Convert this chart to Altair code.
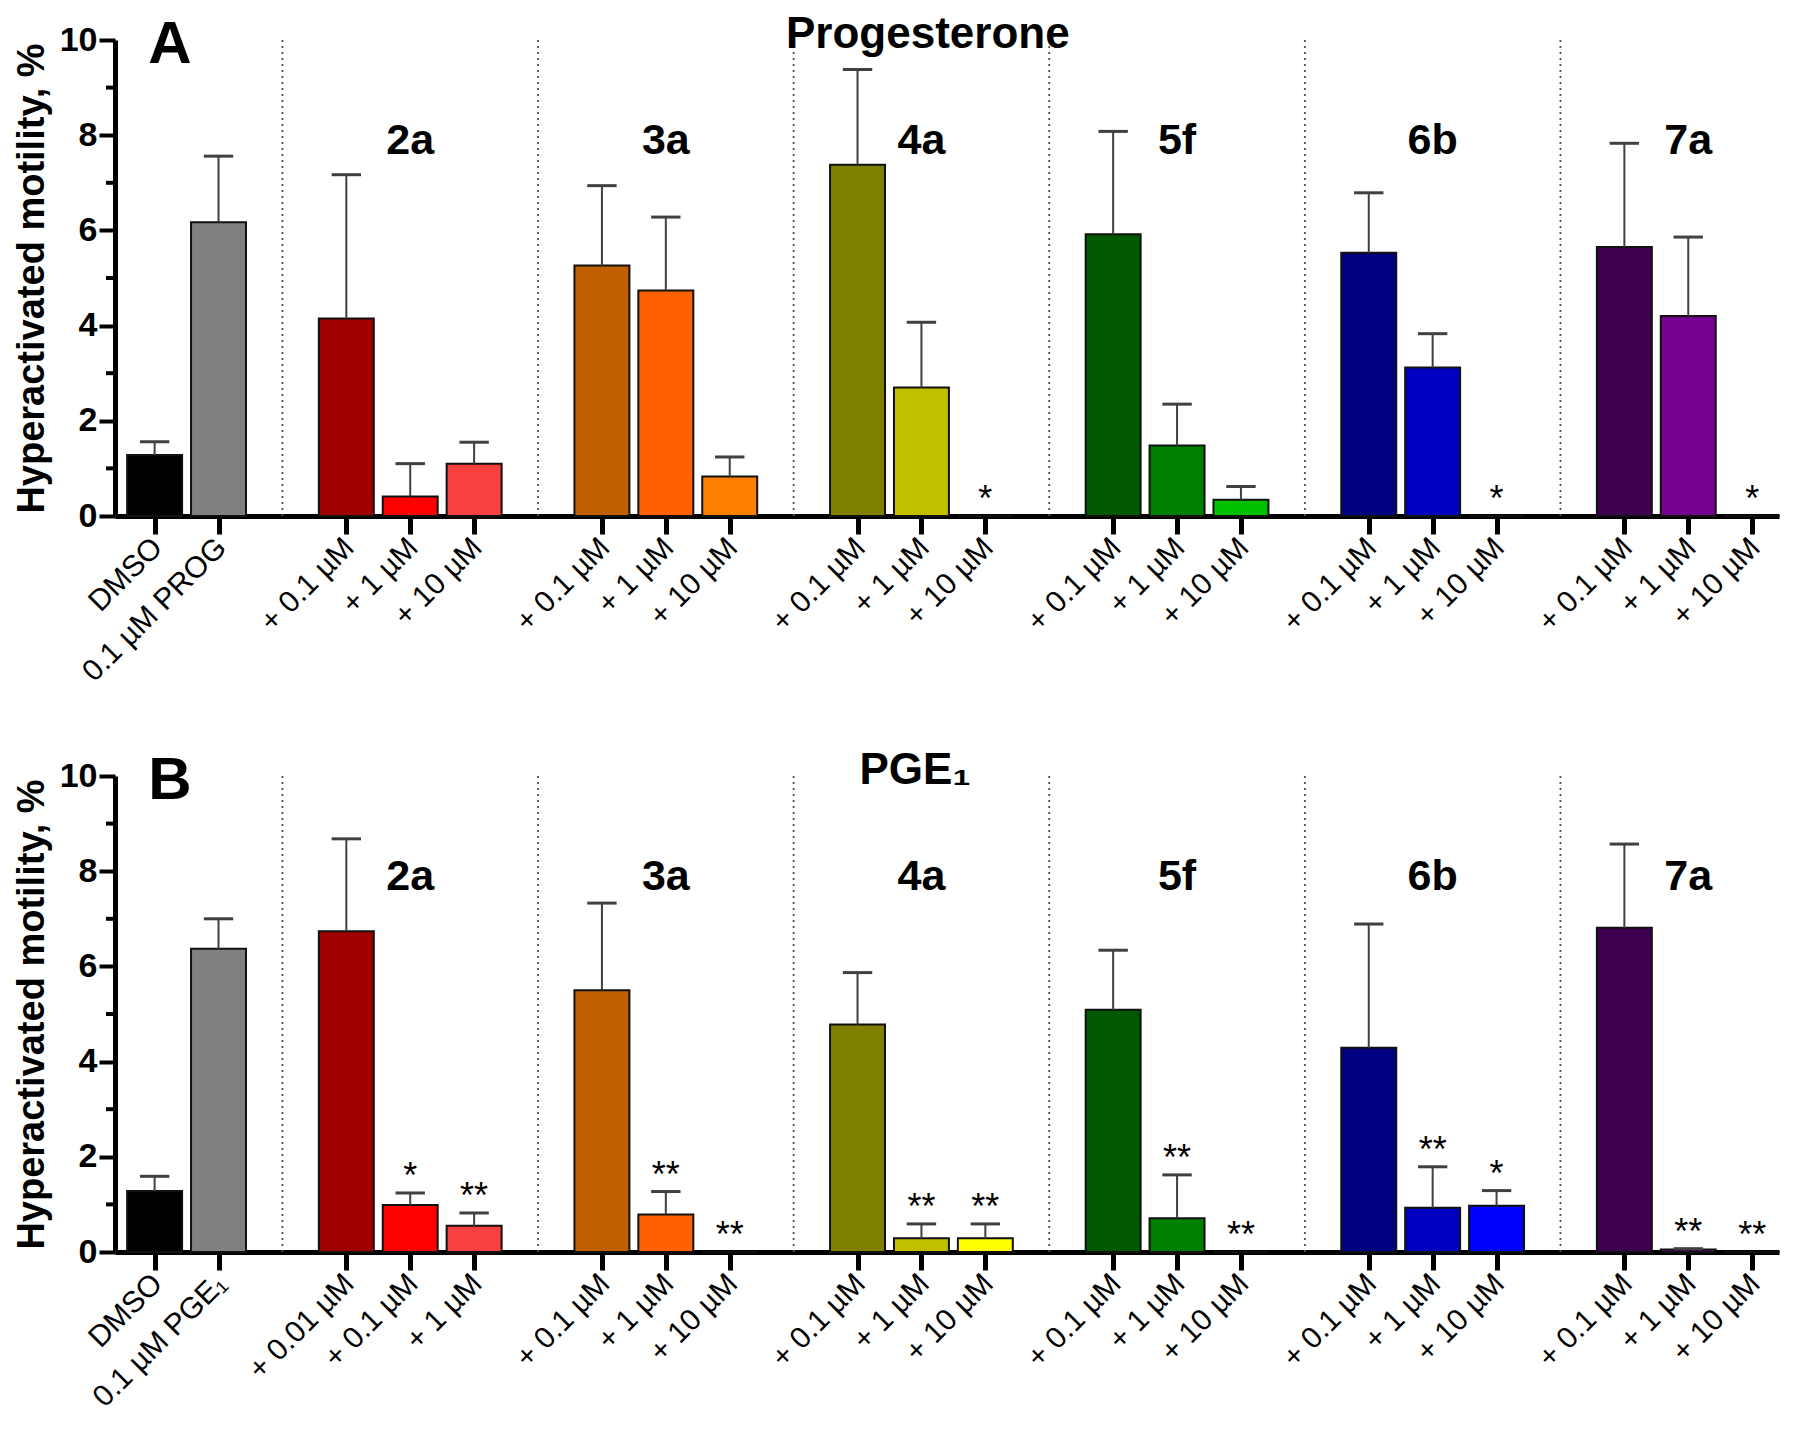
import json
import altair as alt
import pandas as pd

FONT = "Liberation Sans"

# ---- data ----
slots = [0, 1, 3, 4, 5, 7, 8, 9, 11, 12, 13, 15, 16, 17, 19, 20, 21, 23, 24, 25]
gap_slots = [2, 6, 10, 14, 18, 22]
colors = ["#000000", "#808080",
          "#A00000", "#FF0000", "#F84040",
          "#C06000", "#FF6000", "#FF8000",
          "#808000", "#C0C000", "#FFFF00",
          "#005800", "#008000", "#00C000",
          "#000080", "#0000C0", "#0000FF",
          "#400050", "#780090", "#9000B0"]
groups = ["2a", "3a", "4a", "5f", "6b", "7a"]
group_slots = [4, 8, 12, 16, 20, 24]

labels_A = ["DMSO", "0.1 µM PROG",
            "+ 0.1 µM", "+ 1 µM", "+ 10 µM",
            "+ 0.1 µM", "+ 1 µM", "+ 10 µM",
            "+ 0.1 µM", "+ 1 µM", "+ 10 µM",
            "+ 0.1 µM", "+ 1 µM", "+ 10 µM",
            "+ 0.1 µM", "+ 1 µM", "+ 10 µM",
            "+ 0.1 µM", "+ 1 µM", "+ 10 µM"]
values_A = [1.28, 6.17, 4.15, 0.41, 1.10, 5.26, 4.74, 0.83, 7.38, 2.70, 0.0,
            5.92, 1.48, 0.34, 5.53, 3.12, 0.0, 5.65, 4.20, 0.0]
errtop_A = [1.56, 7.56, 7.17, 1.10, 1.55, 6.94, 6.28, 1.24, 9.38, 4.07, None,
            8.08, 2.35, 0.62, 6.79, 3.83, None, 7.83, 5.86, None]
stars_A = ["", "", "", "", "", "", "", "", "", "", "*",
           "", "", "", "", "", "*", "", "", "*"]

labels_B = ["DMSO", "0.1 µM PGE₁",
            "+ 0.01 µM", "+ 0.1 µM", "+ 1 µM",
            "+ 0.1 µM", "+ 1 µM", "+ 10 µM",
            "+ 0.1 µM", "+ 1 µM", "+ 10 µM",
            "+ 0.1 µM", "+ 1 µM", "+ 10 µM",
            "+ 0.1 µM", "+ 1 µM", "+ 10 µM",
            "+ 0.1 µM", "+ 1 µM", "+ 10 µM"]
values_B = [1.28, 6.37, 6.74, 0.99, 0.55, 5.50, 0.79, 0.0, 4.78, 0.29, 0.29,
            5.09, 0.71, 0.0, 4.29, 0.93, 0.97, 6.81, 0.05, 0.0]
errtop_B = [1.59, 7.00, 8.68, 1.24, 0.82, 7.33, 1.27, None, 5.87, 0.59, 0.59,
            6.34, 1.62, None, 6.89, 1.79, 1.29, 8.57, 0.07, None]
stars_B = ["", "", "", "*", "**", "", "**", "**", "", "**", "**",
           "", "**", "**", "", "**", "*", "", "**", "**"]

y_major = [0, 2, 4, 6, 8, 10]
y_minor = [1, 3, 5, 7, 9]

XDOM = [-0.62, 25.42]
W, H = 1664, 476


def panel(labels, values, errtop, stars, title_text, letter, title_x):
    df = pd.DataFrame({"slot": slots, "label": labels, "color": colors,
                       "value": values, "err": errtop, "star": stars})
    label_by_slot = [""] * 26
    for s, l in zip(slots, labels):
        label_by_slot[s] = l
    label_expr = json.dumps(label_by_slot, ensure_ascii=False) + "[round(datum.value)]"

    xs = alt.Scale(domain=XDOM, nice=False, zero=False)
    ys = alt.Scale(domain=[0, 10], nice=False)

    xaxis = alt.Axis(values=slots, labelExpr=label_expr, labelAngle=-45,
                     labelFont=FONT, labelFontSize=30, labelColor="black",
                     labelPadding=-2, labelOffset=-8, labelLimit=500,
                     tickSize=18, tickWidth=5,
                     tickColor="black", domainWidth=5, domainColor="black",
                     grid=False, title=None,
                     labelOverlap=False, labelBound=False, labelFlush=False)
    yaxis = alt.Axis(values=y_major, format="d", labelFont=FONT, labelFontSize=34,
                     labelFontWeight="bold", labelColor="black", labelPadding=2,
                     tickSize=16, tickWidth=4, tickColor="black",
                     domainWidth=5, domainColor="black", grid=False,
                     title="Hyperactivated motility, %", titleFont=FONT,
                     titleFontSize=38, titleFontWeight="bold", titleColor="black",
                     titlePadding=8)

    base = alt.Chart(df)

    dotted = alt.Chart(pd.DataFrame({"g": gap_slots})).transform_calculate(
        y0="0", y1="10"
    ).mark_rule(color="#505050", strokeWidth=1.8, strokeDash=[2, 4]).encode(
        x=alt.X("g:Q", scale=xs), y=alt.Y("y0:Q", scale=ys), y2="y1:Q")

    bars = base.transform_calculate(
        lo="datum.slot - 0.43", hi="datum.slot + 0.43"
    ).mark_bar(stroke="#111111", strokeWidth=2).encode(
        x=alt.X("lo:Q", scale=xs, axis=xaxis),
        x2="hi:Q",
        y=alt.Y("value:Q", scale=ys, axis=yaxis),
        y2=alt.datum(0),
        color=alt.Color("color:N", scale=None),
    )

    errs = base.transform_filter("isValid(datum.err)").mark_rule(
        color="#404040", strokeWidth=2
    ).encode(x=alt.X("slot:Q", scale=xs), y=alt.Y("value:Q", scale=ys), y2="err:Q")

    caps = base.transform_filter("isValid(datum.err)").transform_calculate(
        clo="datum.slot - 0.23", chi="datum.slot + 0.23"
    ).mark_rule(color="#404040", strokeWidth=3).encode(
        x=alt.X("clo:Q", scale=xs), x2="chi:Q", y=alt.Y("err:Q", scale=ys))

    star_txt = base.transform_filter("datum.star != ''").transform_calculate(
        sy="(isValid(datum.err) ? datum.err : datum.value) + 0.52"
    ).mark_text(font=FONT, fontSize=36, color="black", baseline="middle", dy=9).encode(
        x=alt.X("slot:Q", scale=xs), y=alt.Y("sy:Q", scale=ys), text="star:N")

    grp = alt.Chart(pd.DataFrame({"g": groups, "s": group_slots})).transform_calculate(
        gy="7.87").mark_text(font=FONT, fontSize=43, fontWeight="bold", color="black",
                             baseline="middle").encode(
        x=alt.X("s:Q", scale=xs), y=alt.Y("gy:Q", scale=ys), text="g:N")

    ttl = alt.Chart(pd.DataFrame({"t": [title_text], "tx": [title_x], "ty": [10.1]})).mark_text(
        font=FONT, fontSize=44, fontWeight="bold", color="black", baseline="middle"
    ).encode(x=alt.X("tx:Q", scale=xs), y=alt.Y("ty:Q", scale=ys), text="t:N")

    let = alt.Chart(pd.DataFrame({"t": [letter], "tx": [0.24], "ty": [9.9]})).mark_text(
        font=FONT, fontSize=60, fontWeight="bold", color="black", baseline="middle"
    ).encode(x=alt.X("tx:Q", scale=xs), y=alt.Y("ty:Q", scale=ys), text="t:N")

    minor = alt.Chart(pd.DataFrame({"m": y_minor})).mark_rule(
        color="black", strokeWidth=4
    ).encode(x=alt.value(-9), x2=alt.value(0), y=alt.Y("m:Q", scale=ys))

    return alt.layer(bars, dotted, errs, caps, star_txt, grp, ttl, let, minor).properties(
        width=W, height=H)


pA = panel(labels_A, values_A, errtop_A, stars_A, "Progesterone", "A", 12.1)
pB = panel(labels_B, values_B, errtop_B, stars_B, "PGE₁", "B", 11.9)

chart = alt.vconcat(pA, pB, spacing=62).properties(
    padding={"top": 5, "left": 5, "right": 5, "bottom": 5},
    background="white",
).configure_view(strokeWidth=0, stroke="transparent")

chart.save("out.html", embed_options={"renderer": "svg", "actions": False})
